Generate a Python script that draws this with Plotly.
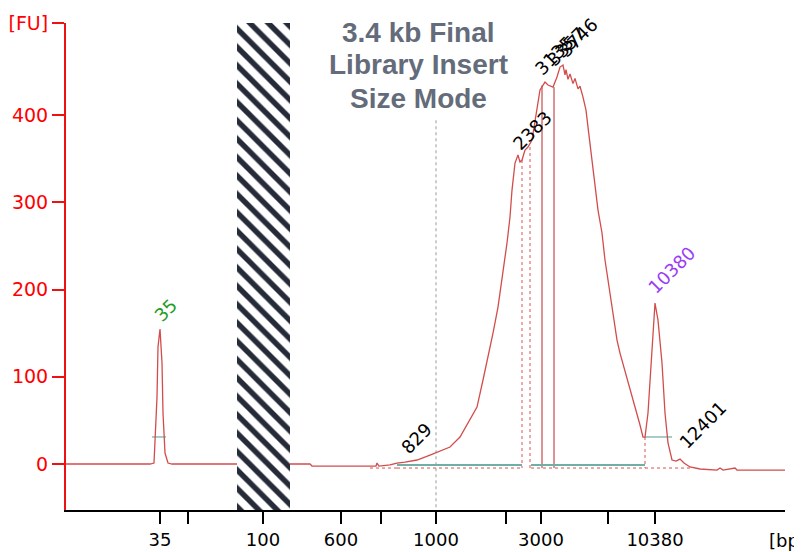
import plotly.graph_objects as go

# Migration position (s) and fluorescence (FU) of the electropherogram trace
time_s = [20.0, 28.4, 28.8, 28.9, 29.1, 29.2, 29.4, 29.6, 29.7, 29.9, 30.2, 30.6,
          44.4, 44.6, 51.0, 51.1, 51.3, 52.4, 53.1, 53.9, 55.1, 56.4, 57.1, 58.4,
          59.4, 60.4, 61.1, 61.7, 62.2, 62.7, 63.2, 63.7, 64.1, 64.4, 64.6, 64.9,
          65.2, 65.4, 65.6, 65.9, 66.2, 66.6, 67.1, 67.4, 67.9, 68.2, 68.7, 69.1,
          69.4, 69.7, 69.9, 70.0, 70.2, 70.4, 70.7, 70.9, 71.2, 71.4, 71.7, 72.0,
          72.2, 72.6, 72.9, 73.2, 73.6, 73.9, 74.2, 74.7, 75.1, 75.4, 76.1, 76.7,
          77.4, 77.7, 77.9, 78.2, 78.6, 78.9, 79.2, 79.6, 79.9, 80.2, 80.6, 81.0,
          81.4, 81.8, 82.4, 83.4, 85.1, 85.4, 85.7, 86.9, 87.1, 91.9]
fu = [0, 0, 1.1, 27.5, 76.8, 134.1, 154.7, 115.8, 58.5, 12.6, 1.1, 0,
      0, -2.3, -2.3, 1.1, -2.3, -1.1, 1.1, 2.3, 4.6, 10.3, 13.8, 19.5,
      30.9, 50.4, 65.3, 96.3, 122.6, 150.1, 179.9, 218.9, 253.3, 283.1, 314.0, 345.0,
      354.2, 346.1, 348.4, 359.9, 363.3, 371.3, 409.2, 428.7, 437.8, 434.4, 432.1, 443.6,
      455.0, 457.3, 446.0, 452.0, 441.0, 447.0, 436.0, 442.0, 430.0, 433.0, 420.6, 405.7,
      386.2, 348.4, 317.5, 291.1, 264.8, 233.8, 210.9, 173.1, 142.1, 127.2, 98.6, 75.6,
      44.7, 30.9, 30.9, 58.5, 134.1, 184.5, 165.0, 115.8, 58.5, 24.1, 4.6, 3.4,
      5.7, 1.1, -3.4, -5.7, -6.9, -4.6, -6.9, -4.6, -6.9, -6.9]

# Size axis ticks (position in s -> bp label)
tick_pos = [29.4, 32.2, 39.7, 47.5, 51.5, 57.0, 64.0, 67.5, 74.2, 78.9]
tick_lbl = ["35", "", "100", "600", "", "1000", "", "3000", "", "10380"]

fu_ticks = [0, 100, 200, 300, 400, 505.5]
fu_labels = ["0", "100", "200", "300", "400", "[FU]"]

# Peak labels
peak_lbl = ["35", "829", "2383", "3135", "3357", "3746", "10380", "12401"]
peak_t = [29.9, 55.0, 66.6, 68.8, 70.0, 71.2, 80.5, 83.6]
peak_fu = [176.5, 29.8, 382.8, 468.8, 479.1, 489.4, 222.3, 44.7]
peak_col = ["#1f9e1f", "black", "black", "black", "black", "black", "#9b3df5", "black"]

# Masked (hatched) region in s
hatch_t = [37.1, 42.4]

# Peak / region marker lines
ladder_t = 57.0
bound_t = [65.6, 66.4]
bound_top = [348.4, 363.3]
peakline_t = [67.6, 68.8]
peakline_top = [434.0, 432.0]
region1 = [53.1, 65.6]
region2 = [66.5, 77.9]
teal_fu = -1.0
dot_fu = -4.6
marker35 = [28.6, 30.0]
marker10380 = [77.9, 80.6]
half_fu = 31.0

Y_MIN, Y_MAX = -52.7, 505.5
X_MIN, X_MAX = 20.0, 91.9

fig = go.Figure()

red_dot = dict(color="#d9534f", width=1, dash="dot")
teal = dict(color="#6fb0a6", width=2)

# ladder reference line
fig.add_trace(go.Scatter(x=[ladder_t, ladder_t], y=[394, Y_MIN], mode="lines",
                         line=dict(color="#9a9a9a", width=1, dash="dot"),
                         showlegend=False, hoverinfo="skip"))
for t, top in zip(bound_t, bound_top):
    fig.add_trace(go.Scatter(x=[t, t], y=[top, dot_fu], mode="lines", line=red_dot,
                             showlegend=False, hoverinfo="skip"))
for t, top in zip(peakline_t, peakline_top):
    fig.add_trace(go.Scatter(x=[t, t], y=[top, dot_fu], mode="lines",
                             line=dict(color="#b52a2a", width=1),
                             showlegend=False, hoverinfo="skip"))
# region baselines
for r in (region1, region2):
    fig.add_trace(go.Scatter(x=r, y=[dot_fu, dot_fu], mode="lines", line=red_dot,
                             showlegend=False, hoverinfo="skip"))
    fig.add_trace(go.Scatter(x=r, y=[teal_fu, teal_fu], mode="lines", line=teal,
                             showlegend=False, hoverinfo="skip"))
fig.add_trace(go.Scatter(x=[50.4, region1[0]], y=[dot_fu, dot_fu], mode="lines", line=red_dot,
                         showlegend=False, hoverinfo="skip"))
fig.add_trace(go.Scatter(x=[region2[1], 82.6], y=[dot_fu, dot_fu], mode="lines", line=red_dot,
                         showlegend=False, hoverinfo="skip"))
fig.add_trace(go.Scatter(x=[region2[1], region2[1]], y=[half_fu, dot_fu], mode="lines", line=red_dot,
                         showlegend=False, hoverinfo="skip"))
# half-height markers
for m in (marker35, marker10380):
    fig.add_trace(go.Scatter(x=m, y=[half_fu, half_fu], mode="lines",
                             line=dict(color="#6fa8a0", width=1.2),
                             showlegend=False, hoverinfo="skip"))

# main trace
fig.add_trace(go.Scatter(x=time_s, y=fu, mode="lines",
                         line=dict(color="#d24c4c", width=1.3),
                         showlegend=False, hoverinfo="skip"))

# hatched mask (drawn on top)
fig.add_trace(go.Scatter(
    x=[hatch_t[0], hatch_t[1], hatch_t[1], hatch_t[0], hatch_t[0]],
    y=[Y_MIN, Y_MIN, Y_MAX, Y_MAX, Y_MIN], mode="lines",
    line=dict(width=0), fill="toself", fillcolor="white",
    fillpattern=dict(shape="\\", fgcolor="#252b38", bgcolor="white", fgopacity=1,
                     size=13, solidity=0.42),
    hoverinfo="skip", showlegend=False))

font_main = "DejaVu Sans, Verdana, sans-serif"
annotations = []
for lbl, t, v, c in zip(peak_lbl, peak_t, peak_fu, peak_col):
    annotations.append(dict(x=t, y=v, xref="x", yref="y", text=lbl, showarrow=False,
                            textangle=-45, font=dict(family=font_main, size=18, color=c),
                            xanchor="center", yanchor="middle"))

# The page body adds an 8px offset; figure coordinates are screen coordinates minus 8.
OFF = 8
FW, FH = 794, 544
PL, PT, PW, PH = 66 - OFF, 23 - OFF, 719, 487   # plot area in figure px


def px_x(sx):
    return (sx - OFF - PL) / PW


def px_y(sy):
    return (PT + PH - (sy - OFF)) / PH


title_lines = ["3.4 kb Final", "Library Insert", "Size Mode"]
title_y = [33, 65, 99]
for line, sy in zip(title_lines, title_y):
    annotations.append(dict(x=px_x(418), y=px_y(sy), xref="paper", yref="paper",
                            text="<b>" + line + "</b>", showarrow=False,
                            font=dict(family="Liberation Sans, Arial, sans-serif", size=28, color="#646b7a"),
                            xanchor="center", yanchor="middle"))
annotations.append(dict(x=px_x(767), y=px_y(540), xref="paper", yref="paper",
                        text="[bp]", showarrow=False, xanchor="left", yanchor="middle",
                        font=dict(family=font_main, size=18, color="black")))

fig.update_layout(
    width=FW, height=FH,
    margin=dict(l=PL, r=FW - PL - PW, t=PT, b=FH - PT - PH, autoexpand=False),
    paper_bgcolor="white", plot_bgcolor="white",
    showlegend=False,
    annotations=annotations,
    xaxis=dict(range=[X_MIN, X_MAX], automargin=False,
               tickmode="array", tickvals=tick_pos, ticktext=tick_lbl,
               ticks="outside", ticklen=12, tickwidth=1.5, tickcolor="black",
               showline=True, linecolor="black", linewidth=2,
               showgrid=False, zeroline=False, layer="below traces",
               tickfont=dict(family=font_main, size=18, color="black")),
    yaxis=dict(range=[Y_MIN, Y_MAX], automargin=False,
               tickmode="array", tickvals=fu_ticks, ticktext=fu_labels,
               ticks="outside", ticklen=12, tickwidth=2, tickcolor="#ee1111",
               showline=True, linecolor="#ee1111", linewidth=2,
               showgrid=False, zeroline=False,
               tickfont=dict(family=font_main, size=19, color="#ff0000")),
    shapes=[dict(type="line", xref="paper", yref="paper",
                 x0=px_x(798), x1=px_x(798), y0=px_y(513), y1=px_y(12),
                 line=dict(color="black", width=2))],
)

fig.write_html("out.html")
